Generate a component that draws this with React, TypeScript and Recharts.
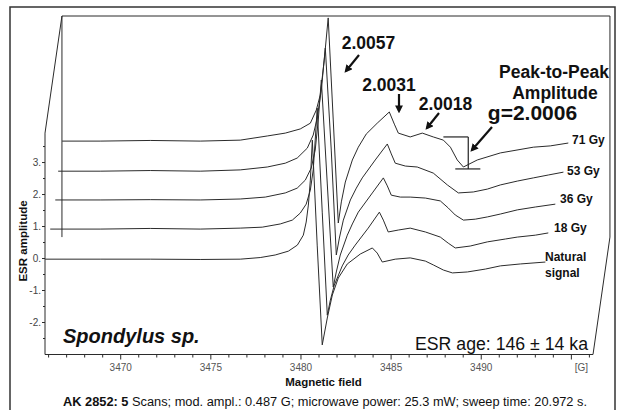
import { ComposedChart, Line, XAxis, YAxis, ReferenceLine } from 'recharts'

// [field (G), ESR amplitude]; each trace keeps its 3D offset
const natural: [number, number][] = [
  [3465.81, -0.02], [3468.86, -0.02], [3471.64, -0.02], [3474.41, -0.03], [3476.63, -0.02],
  [3477.74, 0.03], [3478.57, 0.11], [3479.3, 0.23], [3479.8, 0.42], [3480.13, 0.73],
  [3480.29, 1.14], [3480.41, 1.67], [3480.52, 2.45], [3480.63, 3.7], [3480.9, 0.42],
  [3481.18, -2.7], [3481.46, -1.86], [3481.74, -1.14], [3482.07, -0.61], [3482.57, -0.17],
  [3483.29, 0.14], [3483.96, 0.33], [3484.23, 0.17], [3484.51, -0.11], [3485.23, -0.02],
  [3486.06, 0.02], [3486.9, -0.08], [3487.34, -0.2], [3487.9, -0.36], [3488.4, -0.45],
  [3489.23, -0.42], [3490.23, -0.33], [3491.06, -0.23], [3492.17, -0.17], [3493.56, -0.11],
]
const gy18: [number, number][] = [
  [3466.09, 0.92], [3468.86, 0.92], [3471.64, 0.94], [3474.41, 0.92], [3476.63, 0.95],
  [3477.85, 0.98], [3478.85, 1.08], [3479.52, 1.2], [3479.96, 1.42], [3480.29, 1.7],
  [3480.52, 2.14], [3480.68, 2.77], [3480.79, 3.7], [3480.9, 4.7], [3481.18, 1.45],
  [3481.46, -1.77], [3481.63, -1.3], [3481.85, -0.83], [3482.29, -0.23], [3482.62, 0.11],
  [3483.01, 0.42], [3483.73, 0.95], [3484.35, 1.45], [3484.57, 1.2], [3484.84, 0.83],
  [3485.4, 0.89], [3486.06, 0.95], [3486.9, 0.83], [3487.73, 0.67], [3488.17, 0.48],
  [3488.56, 0.33], [3489.39, 0.39], [3490.34, 0.52], [3491.34, 0.61], [3492.0, 0.67],
  [3493.0, 0.73], [3493.72, 0.8],
]
const gy36: [number, number][] = [
  [3466.37, 1.83], [3468.86, 1.83], [3471.64, 1.84], [3474.41, 1.83], [3476.63, 1.86],
  [3478.02, 1.92], [3479.13, 2.05], [3479.79, 2.2], [3480.24, 2.45], [3480.57, 2.83],
  [3480.79, 3.39], [3480.96, 4.33], [3481.13, 5.58], [3481.46, 2.33], [3481.79, -0.89],
  [3481.96, -0.42], [3482.18, 0.11], [3482.57, 0.73], [3482.85, 1.08], [3483.18, 1.45],
  [3483.96, 2.05], [3484.57, 2.52], [3484.79, 2.27], [3485.01, 1.98], [3485.51, 1.92],
  [3486.06, 1.92], [3486.9, 1.89], [3487.73, 1.8], [3488.17, 1.58], [3488.56, 1.36],
  [3489.01, 1.2], [3489.67, 1.23], [3490.34, 1.3], [3491.06, 1.39], [3492.0, 1.52],
  [3493.0, 1.61], [3494.11, 1.7],
]
const gy53: [number, number][] = [
  [3466.53, 2.73], [3468.86, 2.73], [3471.64, 2.75], [3474.41, 2.73], [3476.63, 2.77],
  [3478.13, 2.86], [3479.13, 2.98], [3479.79, 3.14], [3480.35, 3.45], [3480.68, 3.86],
  [3480.9, 4.39], [3481.13, 5.27], [3481.35, 6.58], [3481.68, 3.39], [3481.96, 0.11],
  [3482.13, 0.64], [3482.35, 1.2], [3482.74, 1.83], [3483.07, 2.2], [3483.4, 2.52],
  [3484.12, 3.08], [3484.79, 3.58], [3485.01, 3.27], [3485.23, 2.98], [3485.79, 2.89],
  [3486.45, 2.86], [3487.34, 2.67], [3488.12, 2.3], [3488.73, 2.05], [3489.56, 2.08],
  [3490.34, 2.17], [3491.06, 2.3], [3492.0, 2.42], [3492.89, 2.52], [3493.72, 2.61],
  [3494.56, 2.7],
]
const gy71: [number, number][] = [
  [3466.75, 3.67], [3468.86, 3.67], [3471.64, 3.69], [3474.41, 3.67], [3476.63, 3.7],
  [3478.13, 3.83], [3479.13, 3.92], [3479.96, 4.05], [3480.52, 4.23], [3480.85, 4.64],
  [3481.07, 5.11], [3481.29, 6.2], [3481.51, 7.52], [3481.79, 4.33], [3482.07, 1.11],
  [3482.24, 1.77], [3482.46, 2.39], [3482.85, 3.08], [3483.18, 3.48], [3483.62, 3.89],
  [3484.23, 4.23], [3484.9, 4.58], [3485.18, 4.2], [3485.4, 3.92], [3486.06, 3.8],
  [3486.73, 3.92], [3487.34, 3.8], [3487.9, 3.7], [3488.29, 3.48], [3488.67, 3.08],
  [3489.01, 2.86], [3489.78, 3.08], [3491.06, 3.3], [3492.89, 3.48], [3493.83, 3.52],
  [3494.83, 3.61],
]

// peak-to-peak bracket on the 71 Gy trace
const ptpTop: [number, number][] = [[3487.9, 3.8], [3489.28, 3.8]]
const ptpStem: [number, number][] = [[3489.28, 3.8], [3489.28, 2.8]]
const ptpBottom: [number, number][] = [[3488.56, 2.8], [3489.95, 2.8]]

const fieldTicks = [
  3466, 3467, 3468, 3469, 3470, 3471, 3472, 3473, 3474, 3475, 3476, 3477, 3478, 3479, 3480, 3481,
  3482, 3483, 3484, 3485, 3486, 3487, 3488, 3489, 3490, 3491, 3492, 3493, 3494, 3495, 3496,
]
const fieldLabels = [3470, 3475, 3480, 3485, 3490]
const ampTicks = [-2.5, -2, -1.5, -1, -0.5, 0, 0.5, 1, 1.5, 2, 2.5, 3, 3.5]
const ampLabels = [-2, -1, 0, 1, 2, 3]

const X_MIN = 3465.8
const X_MAX = 3496.2
const Y_MIN = -3
const Y_MAX = 7.58
const Y_FRONT_TOP = 3.92
// depth of the 3D box (field, amplitude)
const DX = 0.94
const DY = 3.67

const FONT = '"Liberation Sans", Arial, sans-serif'
const INK = '#2b2b2b'

const rows = (pts: [number, number][]) => pts.map(([x, y]) => ({ x, y }))

const traces = [
  { key: 'nat', pts: natural },
  { key: '18', pts: gy18 },
  { key: '36', pts: gy36 },
  { key: '53', pts: gy53 },
  { key: '71', pts: gy71 },
]

function FieldTick({ x, y, payload }: any) {
  const v = payload.value
  const major = v % 5 === 0
  const labelled = fieldLabels.includes(v) || v === 3495
  return (
    <g>
      <line x1={x} x2={x} y1={y} y2={y + (major ? 5 : 3)} stroke={INK} strokeWidth={1} />
      {labelled && (
        <text x={x + (v === 3495 ? 10 : 0)} y={y + 16} textAnchor="middle" fontSize={10}
          fontFamily={FONT} fill="#555">
          {v === 3495 ? '[G]' : v}
        </text>
      )}
    </g>
  )
}

function AmpTick({ x, y, payload }: any) {
  const v = payload.value
  const major = ampLabels.includes(v)
  return (
    <g>
      <line x1={x - (major ? 3 : 2)} x2={x} y1={y} y2={y} stroke={INK} strokeWidth={1} />
      {major && (
        <text x={x - 4} y={y + 3.5} textAnchor="end" fontSize={10} fontFamily={FONT} fill="#444">
          {v}.
        </text>
      )}
    </g>
  )
}

function Overlay() {
  const bold = { fontFamily: FONT, fontWeight: 700, fill: '#111' }
  return (
    <svg width={623} height={410} style={{ position: 'absolute', left: 0, top: 0, pointerEvents: 'none' }}>
      <defs>
        <marker id="ah" viewBox="0 0 10 10" refX="7" refY="5" markerWidth="3.6" markerHeight="3.6"
          orient="auto">
          <path d="M0,0 L10,5 L0,10 z" fill="#111" />
        </marker>
      </defs>
      <rect x={10} y={7} width={605} height={410} fill="none" stroke="#333" strokeWidth={1.5} />

      <text x={368.5} y={49} textAnchor="middle" fontSize={17.5} {...bold}>2.0057</text>
      <line x1={359} y1={55} x2={346} y2={71} stroke="#111" strokeWidth={2.2} markerEnd="url(#ah)" />
      <text x={389} y={91} textAnchor="middle" fontSize={17.5} {...bold}>2.0031</text>
      <line x1={399} y1={94} x2={399} y2={111} stroke="#111" strokeWidth={2.2} markerEnd="url(#ah)" />
      <text x={445.5} y={110} textAnchor="middle" fontSize={17.5} {...bold}>2.0018</text>
      <line x1={439} y1={113} x2={427} y2={128} stroke="#111" strokeWidth={2.2} markerEnd="url(#ah)" />

      <text x={554} y={77.5} textAnchor="middle" fontSize={17.5} {...bold}>Peak-to-Peak</text>
      <text x={555} y={99} textAnchor="middle" fontSize={17.5} {...bold}>Amplitude</text>
      <text x={532.5} y={119.5} textAnchor="middle" fontSize={21} {...bold}>g=2.0006</text>
      <line x1={492} y1={127} x2={472} y2={150} stroke="#111" strokeWidth={2.2} markerEnd="url(#ah)" />

      <text x={572} y={144} fontSize={12} {...bold}>71 Gy</text>
      <text x={567} y={175} fontSize={12} {...bold}>53 Gy</text>
      <text x={560} y={203} fontSize={12} {...bold}>36 Gy</text>
      <text x={554} y={232} fontSize={12} {...bold}>18 Gy</text>
      <text x={545} y={261} fontSize={12} {...bold}>Natural</text>
      <text x={545} y={277} fontSize={12} {...bold}>signal</text>

      <text x={63} y={343} fontSize={20} fontStyle="italic" {...bold}>Spondylus sp.</text>
      <text x={415} y={350} fontSize={17.5} fontFamily={FONT} fill="#111" textLength={173}
        lengthAdjust="spacingAndGlyphs">ESR age: 146 ± 14 ka</text>

      <text x={23} y={241} transform="rotate(-90 23 241)" textAnchor="middle" dominantBaseline="central"
        fontSize={11.5} {...bold}>ESR amplitude</text>
      <text x={323.5} y={386} textAnchor="middle" fontSize={11.5} {...bold}>Magnetic field</text>
      <text x={63} y={406} fontSize={12} fontFamily={FONT} fill="#111" textLength={524}
        lengthAdjust="spacingAndGlyphs">
        <tspan fontWeight={700}>AK 2852: 5</tspan> Scans; mod. ampl.: 0.487 G; microwave power: 25.3 mW; sweep time: 20.972 s.
      </text>
    </svg>
  )
}

export default function App() {
  const box = { stroke: INK, strokeWidth: 1, ifOverflow: 'visible' as const }
  const bracket = { stroke: '#222', strokeWidth: 1.2, ifOverflow: 'visible' as const }
  return (
    <div style={{ position: 'absolute', left: 0, top: 0, width: 623, height: 410, background: '#fff' }}>
      <ComposedChart width={623} height={410} margin={{ top: 16, right: 30, bottom: 25.5, left: 0 }}>
        <XAxis type="number" dataKey="x" domain={[X_MIN, X_MAX]} allowDataOverflow ticks={fieldTicks}
          interval={0} tickSize={0} tickMargin={0} tick={FieldTick} height={30}
          axisLine={{ stroke: INK, strokeWidth: 1 }} />
        <YAxis type="number" domain={[Y_MIN, Y_MAX]} allowDataOverflow ticks={ampTicks} interval={0}
          tickSize={0} tickMargin={0} tick={AmpTick} width={45} axisLine={false} />

        {/* 3D frame */}
        <ReferenceLine segment={[{ x: X_MIN, y: Y_MIN }, { x: X_MIN, y: Y_FRONT_TOP }]} {...box} />
        <ReferenceLine segment={[{ x: X_MIN, y: Y_FRONT_TOP }, { x: X_MIN + DX, y: Y_MAX }]} {...box} />
        <ReferenceLine segment={[{ x: X_MIN + DX, y: Y_MAX }, { x: X_MIN + DX, y: Y_MIN + DY }]} {...box} />
        <ReferenceLine segment={[{ x: X_MIN + DX, y: Y_MAX }, { x: X_MAX + DX, y: Y_MAX }]} {...box} />
        <ReferenceLine segment={[{ x: X_MAX + DX, y: Y_MAX }, { x: X_MAX + DX, y: Y_MIN + DY }]} {...box} />
        <ReferenceLine segment={[{ x: X_MAX, y: Y_MIN }, { x: X_MAX + DX, y: Y_MIN + DY }]} {...box} />

        {traces.map(t => (
          <Line key={t.key} data={rows(t.pts)} dataKey="y" type="linear" stroke={INK} strokeWidth={1}
            dot={false} isAnimationActive={false} />
        ))}

        <ReferenceLine segment={rows(ptpTop)} {...bracket} />
        <ReferenceLine segment={rows(ptpStem)} {...bracket} />
        <ReferenceLine segment={rows(ptpBottom)} {...bracket} />
      </ComposedChart>
      <Overlay />
    </div>
  )
}
